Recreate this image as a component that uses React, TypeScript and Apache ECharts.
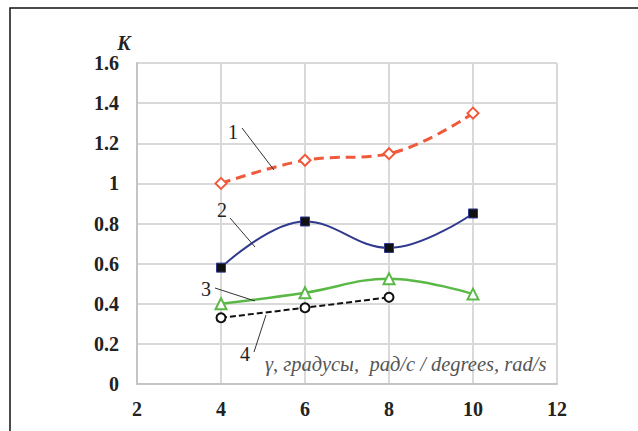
import React, { useEffect, useRef } from "react";
import * as echarts from "echarts";

const xValues = [4, 6, 8, 10];
const series1 = [1.0, 1.115, 1.148, 1.35];
const series2 = [0.58, 0.81, 0.678, 0.85];
const series3 = [0.4, 0.455, 0.525, 0.448];
const series4 = [0.33, 0.38, 0.432];
const curveLabels = ["1", "2", "3", "4"];
const yTitle = "K";
const xTitle = "γ, градусы,  рад/с / degrees, rad/s";

const pair = (vals: number[]) => vals.map((v, i) => [xValues[i], v]);

export default function App() {
  const ref = useRef<HTMLDivElement>(null);
  useEffect(() => {
    if (!ref.current) return;
    const chart = echarts.init(ref.current, null, { renderer: "svg" });
    const serif = "Liberation Serif";
    const leader = (x1: number, y1: number, x2: number, y2: number) => ({
      type: "line",
      shape: { x1, y1, x2, y2 },
      style: { stroke: "#333", lineWidth: 1 },
      z: 10,
    });
    const num = (t: string, x: number, y: number) => ({
      type: "text",
      x,
      y,
      style: {
        text: t,
        fontFamily: serif,
        fontSize: 20,
        fill: "#222",
        align: "center",
        verticalAlign: "middle",
      },
      z: 10,
    });
    chart.setOption({
      animation: false,
      backgroundColor: "#fff",
      grid: { left: 137, top: 63, width: 420, height: 321, containLabel: false },
      xAxis: {
        type: "value",
        min: 2,
        max: 12,
        interval: 2,
        axisLine: { show: true, lineStyle: { color: "#c4c4c4", width: 2 } },
        axisTick: { show: false },
        splitLine: { show: true, lineStyle: { color: "#d9d9d9", width: 2 } },
        axisLabel: { margin: 15, color: "#222", fontFamily: serif, fontWeight: "bold", fontSize: 20 },
      },
      yAxis: {
        type: "value",
        min: 0,
        max: 1.6,
        interval: 0.2,
        axisLine: { show: true, lineStyle: { color: "#c4c4c4", width: 2 } },
        axisTick: { show: false },
        splitLine: { show: true, lineStyle: { color: "#d9d9d9", width: 2 } },
        axisLabel: {
          margin: 18,
          color: "#222",
          fontFamily: serif,
          fontWeight: "bold",
          fontSize: 20,
          formatter: (v: number) => String(Math.round(v * 10) / 10),
        },
      },
      series: [
        {
          type: "line",
          data: pair(series1),
          smooth: 0.4,
          symbol: "diamond",
          symbolSize: 11,
          itemStyle: { color: "#fff", borderColor: "#f05a3c", borderWidth: 2 },
          lineStyle: { color: "#f05a3c", width: 3, type: [10, 6] },
          z: 4,
        },
        {
          type: "line",
          data: pair(series2),
          smooth: 0.4,
          symbol: "rect",
          symbolSize: 9,
          itemStyle: { color: "#111", borderColor: "#2f3a8f", borderWidth: 1 },
          lineStyle: { color: "#2f3a8f", width: 2 },
          z: 4,
        },
        {
          type: "line",
          data: pair(series3),
          smooth: 0.4,
          symbol: "triangle",
          symbolSize: 11,
          itemStyle: { color: "#fff", borderColor: "#5ab946", borderWidth: 2 },
          lineStyle: { color: "#5ab946", width: 2.5 },
          z: 4,
        },
        {
          type: "line",
          data: pair(series4),
          smooth: false,
          symbol: "circle",
          symbolSize: 9,
          itemStyle: { color: "#fff", borderColor: "#111", borderWidth: 2 },
          lineStyle: { color: "#111", width: 2, type: [6, 3] },
          z: 4,
        },
      ],
      graphic: [
        {
          type: "rect",
          shape: { x: 10, y: 8, width: 700, height: 500 },
          style: { fill: "none", stroke: "#111", lineWidth: 1.5 },
          silent: true,
          z: 0,
        },
        {
          type: "text",
          x: 124,
          y: 43,
          style: {
            text: yTitle,
            fontFamily: serif,
            fontStyle: "italic",
            fontWeight: "bold",
            fontSize: 20,
            fill: "#222",
            align: "center",
            verticalAlign: "middle",
          },
        },
        {
          type: "text",
          x: 265,
          y: 364,
          style: {
            text: xTitle,
            fontFamily: serif,
            fontStyle: "italic",
            fontSize: 20.5,
            fill: "#555",
            align: "left",
            verticalAlign: "middle",
          },
          z: 10,
        },
        num(curveLabels[0], 233, 132),
        leader(242, 128, 274, 170),
        num(curveLabels[1], 222, 210),
        leader(230, 218, 255, 247),
        num(curveLabels[2], 206, 289),
        leader(215, 288, 255, 301),
        num(curveLabels[3], 245, 354),
        leader(254, 352, 266, 315),
      ],
    });
    return () => chart.dispose();
  }, []);
  return <div ref={ref} style={{ position: "fixed", left: 0, top: 0, width: 638, height: 431 }} />;
}
